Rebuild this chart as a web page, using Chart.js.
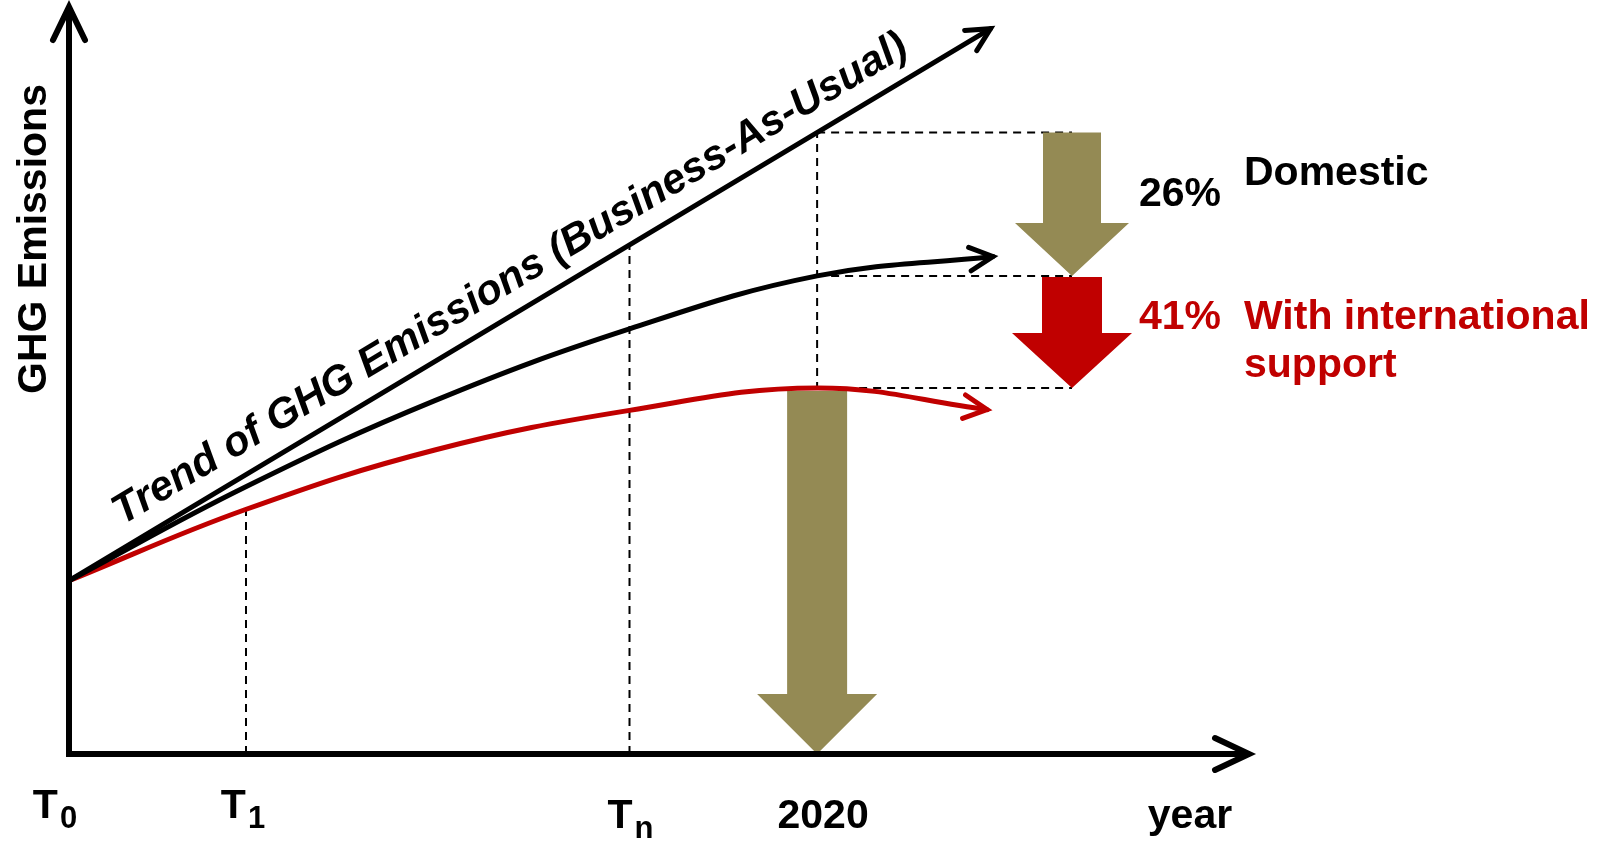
<!DOCTYPE html>
<html>
<head>
<meta charset="utf-8">
<script src="https://cdn.jsdelivr.net/npm/chart.js@4.4.1/dist/chart.umd.min.js"></script>
<style>
  html, body { margin: 0; padding: 0; background: #fff; }
  canvas { display: block; }
</style>
</head>
<body>
<canvas id="ghgChart" width="1613" height="843"></canvas>
<script>
// Series (x = time units from T0, y = emission level, both 0..100)
const bauX = [0, 78.1];
const bauY = [23.2, 97.1];
const domesticX = [0, 14.9, 31, 47.5, 63.4, 78.3];
const domesticY = [23.2, 35.7, 47.3, 56.9, 64.0, 66.6];
const intlX = [0, 14.9, 31, 47.5, 63.4, 77.8];
const intlY = [23.2, 32.7, 40.7, 46.0, 49.0, 46.1];

// x axis ticks
const tickValues = [0, 15, 47.5, 63.4];
const tickMain = ['T', 'T', 'T', '2020'];
const tickSub = ['0', '1', 'n', ''];
const xTitle = 'year';
const xTitleAt = 95;
const yTitle = 'GHG Emissions';

// dashed guides
const guideX = [15, 47.5, 63.4];
const guideTop = [33.7, 68.1, 83.2];

// levels at 2020: BAU, domestic, international
const levels2020 = [83.2, 64.0, 49.0];
const reductionX = 85;
const reductionPct = ['26%', '41%'];
const reductionName = [['Domestic'], ['With international', 'support']];
const bauLabel = 'Trend of GHG Emissions (Business-As-Usual)';

const OLIVE = '#948A54';
const RED = '#C00000';
const FONT = '"Liberation Sans", Arial, sans-serif';

function pts(xs, ys) { return xs.map((x, i) => ({ x: x, y: ys[i] })); }

function chevron(ctx, x, y, ang, color, w) {
  const L = 26, h = 27 * Math.PI / 180;
  ctx.save();
  ctx.strokeStyle = color;
  ctx.lineWidth = w;
  ctx.lineCap = 'round';
  ctx.lineJoin = 'miter';
  ctx.beginPath();
  ctx.moveTo(x + L * Math.cos(ang + Math.PI - h), y + L * Math.sin(ang + Math.PI - h));
  ctx.lineTo(x, y);
  ctx.lineTo(x + L * Math.cos(ang + Math.PI + h), y + L * Math.sin(ang + Math.PI + h));
  ctx.stroke();
  ctx.restore();
}

function blockArrow(ctx, cx, yTop, yTip, shaft, head, headLen, color) {
  ctx.save();
  ctx.fillStyle = color;
  ctx.beginPath();
  ctx.moveTo(cx - shaft, yTop);
  ctx.lineTo(cx + shaft, yTop);
  ctx.lineTo(cx + shaft, yTip - headLen);
  ctx.lineTo(cx + head, yTip - headLen);
  ctx.lineTo(cx, yTip);
  ctx.lineTo(cx - head, yTip - headLen);
  ctx.lineTo(cx - shaft, yTip - headLen);
  ctx.closePath();
  ctx.fill();
  ctx.restore();
}

const diagram = {
  id: 'diagram',
  beforeDatasetsDraw(chart) {
    const ctx = chart.ctx, xs = chart.scales.x, ys = chart.scales.y;
    const x2020 = xs.getPixelForValue(tickValues[3]);
    const xr = xs.getPixelForValue(reductionX);
    const ly = levels2020.map(v => ys.getPixelForValue(v));
    ctx.save();
    ctx.strokeStyle = '#000';
    ctx.lineWidth = 2;
    ctx.setLineDash([8, 6]);
    guideX.forEach((g, i) => {
      const px = xs.getPixelForValue(g);
      ctx.beginPath();
      ctx.moveTo(px, ys.getPixelForValue(0));
      ctx.lineTo(px, ys.getPixelForValue(guideTop[i]));
      ctx.stroke();
    });
    ly.forEach(py => {
      ctx.beginPath();
      ctx.moveTo(x2020, py);
      ctx.lineTo(xr, py);
      ctx.stroke();
    });
    ctx.restore();

    blockArrow(ctx, xr, ly[0], ly[1], 29, 57, 53, OLIVE);
    blockArrow(ctx, xr, ly[1] + 1, ly[2], 30, 60, 55, RED);
    blockArrow(ctx, x2020, ly[2] + 3, ys.getPixelForValue(0), 30, 60, 60, OLIVE);
  },
  afterDatasetsDraw(chart) {
    const ctx = chart.ctx, a = chart.chartArea, xs = chart.scales.x, ys = chart.scales.y;

    // arrowheads at line ends
    chart.data.datasets.forEach((ds, i) => {
      const pts = chart.getDatasetMeta(i).data;
      const p = pts[pts.length - 1];
      let qx = p.cp1x, qy = p.cp1y;
      if (qx === undefined || (Math.abs(qx - p.x) < 0.5 && Math.abs(qy - p.y) < 0.5)) {
        qx = pts[pts.length - 2].x; qy = pts[pts.length - 2].y;
      }
      chevron(ctx, p.x, p.y, Math.atan2(p.y - qy, p.x - qx), ds.borderColor, 5);
    });

    // axes
    ctx.save();
    ctx.strokeStyle = '#000';
    ctx.lineWidth = 6;
    ctx.lineCap = 'butt';
    ctx.beginPath();
    ctx.moveTo(a.left, a.bottom + 3);
    ctx.lineTo(a.left, a.top + 3);
    ctx.moveTo(a.left - 3, a.bottom);
    ctx.lineTo(a.right - 3, a.bottom);
    ctx.stroke();
    ctx.lineCap = 'round';
    ctx.lineJoin = 'miter';
    ctx.beginPath();
    ctx.moveTo(a.left - 16, a.top + 33);
    ctx.lineTo(a.left, a.top);
    ctx.lineTo(a.left + 16, a.top + 33);
    ctx.moveTo(a.right - 34, a.bottom - 16);
    ctx.lineTo(a.right, a.bottom);
    ctx.lineTo(a.right - 34, a.bottom + 16);
    ctx.stroke();
    ctx.restore();

    // tick labels
    ctx.save();
    ctx.fillStyle = '#000';
    ctx.textBaseline = 'alphabetic';
    const shift = [-14, -3, 1, 6];
    const drop = [0, 0, 10, 10];
    tickValues.forEach((v, i) => {
      const px = xs.getPixelForValue(v) + shift[i];
      const base = a.bottom + 64 + drop[i];
      ctx.font = 'bold 41px ' + FONT;
      const wm = ctx.measureText(tickMain[i]).width;
      ctx.font = 'bold 31px ' + FONT;
      const wsub = tickSub[i] ? ctx.measureText(tickSub[i]).width + 2 : 0;
      const left = px - (wm + wsub) / 2;
      ctx.font = 'bold 41px ' + FONT;
      ctx.textAlign = 'left';
      ctx.fillText(tickMain[i], left, base);
      if (tickSub[i]) {
        ctx.font = 'bold 31px ' + FONT;
        ctx.fillText(tickSub[i], left + wm + 2, base + 10);
      }
    });
    ctx.font = 'bold 41px ' + FONT;
    ctx.textAlign = 'center';
    ctx.fillText(xTitle, xs.getPixelForValue(xTitleAt), a.bottom + 74);

    // y title
    ctx.save();
    ctx.translate(a.left - 23, a.top + 232);
    ctx.rotate(-Math.PI / 2);
    ctx.textAlign = 'center';
    ctx.fillText(yTitle, 0, 0);
    ctx.restore();

    // BAU label along the line
    const meta = chart.getDatasetMeta(0).data;
    const p0 = meta[0], p1 = meta[meta.length - 1];
    const ang = Math.atan2(p1.y - p0.y, p1.x - p0.x);
    const ux = Math.cos(ang), uy = Math.sin(ang);
    const sx = p0.x + ux * 74 + uy * 20, sy = p0.y + uy * 74 - ux * 20;
    ctx.save();
    ctx.translate(sx, sy);
    ctx.rotate(ang);
    ctx.font = 'italic bold 42px ' + FONT;
    ctx.textAlign = 'left';
    ctx.fillText(bauLabel, 0, 0);
    ctx.restore();

    // reduction labels
    const xr = xs.getPixelForValue(reductionX);
    const ly = levels2020.map(v => ys.getPixelForValue(v));
    ctx.textAlign = 'left';
    ctx.font = 'bold 41px ' + FONT;
    ctx.fillStyle = '#000';
    ctx.fillText(reductionPct[0], xr + 67, ly[0] + 74);
    ctx.fillText(reductionName[0][0], xr + 172, ly[0] + 53);
    ctx.fillStyle = RED;
    ctx.fillText(reductionPct[1], xr + 67, ly[1] + 53);
    reductionName[1].forEach((t, k) => ctx.fillText(t, xr + 172, ly[1] + 53 + k * 48));
    ctx.restore();
  }
};

new Chart(document.getElementById('ghgChart'), {
  type: 'line',
  data: {
    datasets: [
      { label: 'Business-As-Usual', data: pts(bauX, bauY), borderColor: '#000' },
      { label: 'Domestic', data: pts(domesticX, domesticY), borderColor: '#000', tension: 0.4 },
      { label: 'With international support', data: pts(intlX, intlY), borderColor: RED, tension: 0.4 }
    ]
  },
  options: {
    responsive: false,
    animation: false,
    layout: { padding: { left: 69, right: 364, top: 7, bottom: 89 } },
    elements: {
      point: { radius: 0 },
      line: { borderWidth: 5, fill: false, borderCapStyle: 'round' }
    },
    scales: {
      x: { type: 'linear', min: 0, max: 100, display: false },
      y: { type: 'linear', min: 0, max: 100, display: false }
    },
    plugins: { legend: { display: false }, tooltip: { enabled: false } }
  },
  plugins: [diagram]
});
</script>
</body>
</html>
